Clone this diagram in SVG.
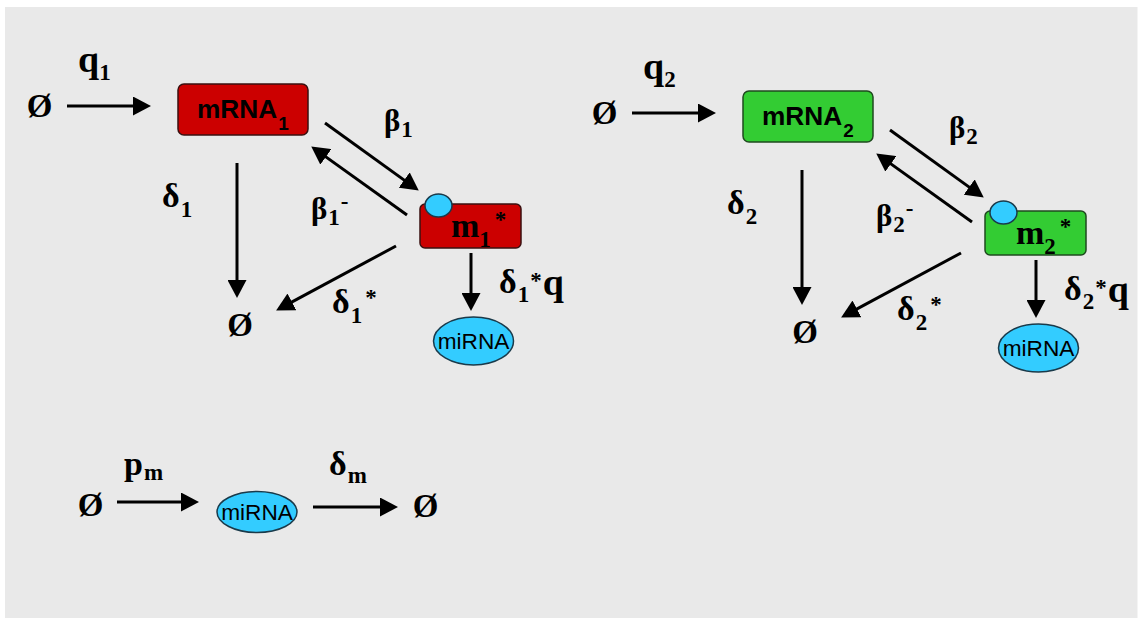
<svg xmlns="http://www.w3.org/2000/svg" width="1138" height="620" viewBox="0 0 1138 620">
  <style>
    .lbl { font-family: "Liberation Serif", "Times New Roman", serif; font-weight: bold; fill: #000; }
    .q { font-size: 38px; }
    .b { font-size: 31px; }
    .d { font-size: 34px; }
    .mm { font-size: 34px; }
    .p { font-size: 34px; }
    .sub { font-size: 23px; }
    .sym { font-family: "Liberation Serif", "Times New Roman", serif; font-weight: bold; font-size: 33px; fill: #000; text-anchor: middle; }
    .box-label { font-family: "Liberation Sans", Arial, sans-serif; font-weight: bold; font-size: 25px; fill: #000; }
    .box-sub { font-size: 18px; }
    .mi { font-family: "Liberation Sans", Arial, sans-serif; font-size: 22px; fill: #000; text-anchor: middle; }
    .red { fill: #cc0000; stroke: #3a1010; stroke-width: 1.5; }
    .green { fill: #33cc33; stroke: #1f4a1f; stroke-width: 1.5; }
    .blue { fill: #33ccff; stroke: #1a3a4a; stroke-width: 1.5; }
    .arrow { stroke: #000; stroke-width: 3; fill: none; marker-end: url(#head); }
  </style>
  <defs>
    <marker id="head" markerUnits="userSpaceOnUse" markerWidth="18" markerHeight="19" viewBox="0 0 18 19" refX="12" refY="9.5" orient="auto">
      <path d="M0,0 L18,9.5 L0,19 z" fill="#000"/>
    </marker>
  </defs>

  <!-- panel background -->
  <rect x="5" y="7" width="1132.5" height="611" fill="#e9e9e9"/>

  <!-- connectors -->
  <g id="connectors">
    <!-- system 1 -->
    <line class="arrow" x1="67" y1="106" x2="145" y2="106"/>
    <line class="arrow" x1="325" y1="123" x2="413.9" y2="187.1"/>
    <line class="arrow" x1="407" y1="215" x2="316.1" y2="149.9"/>
    <line class="arrow" x1="237" y1="163" x2="237" y2="292"/>
    <line class="arrow" x1="396" y1="246" x2="281.4" y2="307.6"/>
    <line class="arrow" x1="471" y1="253" x2="471" y2="305"/>
    <!-- system 2 -->
    <g transform="translate(565,7)">
      <line class="arrow" x1="67" y1="106" x2="145" y2="106"/>
      <line class="arrow" x1="325" y1="123" x2="413.9" y2="187.1"/>
      <line class="arrow" x1="407" y1="215" x2="316.1" y2="149.9"/>
      <line class="arrow" x1="237" y1="163" x2="237" y2="292"/>
      <line class="arrow" x1="396" y1="246" x2="281.4" y2="307.6"/>
      <line class="arrow" x1="471" y1="253" x2="471" y2="305"/>
    </g>
    <!-- miRNA production / decay -->
    <line class="arrow" x1="117" y1="502" x2="193" y2="502"/>
    <line class="arrow" x1="313" y1="507" x2="392" y2="507"/>
  </g>

  <!-- rate labels, system 1 -->
  <g id="labels1">
    <text class="lbl q" x="78" y="72">q<tspan class="sub" dy="8">1</tspan></text>
    <text class="lbl b" x="384" y="131">β<tspan class="sub" dx="1" dy="6">1</tspan></text>
    <text class="lbl b" x="311" y="219">β<tspan class="sub" dx="1" dy="6">1</tspan><tspan class="sub" dx="1" dy="-16">-</tspan></text>
    <text class="lbl d" x="162" y="207">δ<tspan class="sub" dx="1" dy="10">1</tspan></text>
    <text class="lbl d" x="332" y="313">δ<tspan class="sub" dx="1" dy="10">1</tspan><tspan class="sub" dx="3" dy="-18">*</tspan></text>
    <text class="lbl d" x="499" y="293">δ<tspan class="sub" dx="1" dy="9">1</tspan><tspan class="sub" dx="1" dy="-14">*</tspan><tspan class="q" dx="1" dy="7">q</tspan></text>
  </g>

  <!-- rate labels, system 2 -->
  <g id="labels2" transform="translate(565,7)">
    <text class="lbl q" x="78" y="72">q<tspan class="sub" dy="8">2</tspan></text>
    <text class="lbl b" x="384" y="131">β<tspan class="sub" dx="1" dy="6">2</tspan></text>
    <text class="lbl b" x="311" y="219">β<tspan class="sub" dx="1" dy="6">2</tspan><tspan class="sub" dx="1" dy="-16">-</tspan></text>
    <text class="lbl d" x="162" y="207">δ<tspan class="sub" dx="1" dy="10">2</tspan></text>
    <text class="lbl d" x="332" y="313">δ<tspan class="sub" dx="1" dy="10">2</tspan><tspan class="sub" dx="3" dy="-18">*</tspan></text>
    <text class="lbl d" x="499" y="293">δ<tspan class="sub" dx="1" dy="9">2</tspan><tspan class="sub" dx="1" dy="-14">*</tspan><tspan class="q" dx="1" dy="7">q</tspan></text>
  </g>

  <!-- rate labels, miRNA -->
  <g id="labels3">
    <text class="lbl p" x="124" y="475">p<tspan class="sub" dx="1" dy="5">m</tspan></text>
    <text class="lbl d" x="329" y="475">δ<tspan class="sub" dx="1" dy="8">m</tspan></text>
  </g>

  <!-- empty-set sources and sinks -->
  <g id="null1-src"><text class="sym" x="39.5" y="116.5">Ø</text></g>
  <g id="null1-sink"><text class="sym" x="240" y="336">Ø</text></g>
  <g id="null2-src"><text class="sym" x="604.5" y="123.5">Ø</text></g>
  <g id="null2-sink"><text class="sym" x="805" y="343">Ø</text></g>
  <g id="null3-src"><text class="sym" x="90.5" y="515.5">Ø</text></g>
  <g id="null3-sink"><text class="sym" x="425.5" y="516.5">Ø</text></g>

  <!-- mRNA1 -->
  <g id="mrna1">
    <rect class="red" x="178" y="84" width="130" height="51" rx="6"/>
    <text class="box-label" transform="translate(197,118) scale(1.05,1)">mRNA<tspan class="box-sub" dx="1" dy="12">1</tspan></text>
  </g>

  <!-- bound complex m1* -->
  <g id="m1star">
    <rect class="red" x="420" y="204" width="101" height="44" rx="5"/>
    <ellipse class="blue" cx="438.5" cy="205.5" rx="13.5" ry="11.5"/>
    <text class="lbl mm" x="451" y="237">m<tspan class="sub" dy="10">1</tspan><tspan class="sub" dx="4" dy="-20">*</tspan></text>
  </g>

  <!-- miRNA released from m1* -->
  <g id="mirna1">
    <ellipse class="blue" cx="473.5" cy="341" rx="40" ry="24"/>
    <text class="mi" transform="translate(473.5,349) scale(1.03,1)">miRNA</text>
  </g>

  <!-- mRNA2 -->
  <g id="mrna2">
    <rect class="green" x="743" y="91" width="130" height="51" rx="6"/>
    <text class="box-label" transform="translate(762,125) scale(1.05,1)">mRNA<tspan class="box-sub" dx="1" dy="12">2</tspan></text>
  </g>

  <!-- bound complex m2* -->
  <g id="m2star">
    <rect class="green" x="985" y="211" width="101" height="44" rx="5"/>
    <ellipse class="blue" cx="1003.5" cy="212.5" rx="13.5" ry="11.5"/>
    <text class="lbl mm" x="1016" y="244">m<tspan class="sub" dy="10">2</tspan><tspan class="sub" dx="4" dy="-20">*</tspan></text>
  </g>

  <!-- miRNA released from m2* -->
  <g id="mirna2">
    <ellipse class="blue" cx="1038.5" cy="348" rx="40" ry="24"/>
    <text class="mi" transform="translate(1038.5,356) scale(1.03,1)">miRNA</text>
  </g>

  <!-- free miRNA pool -->
  <g id="mirna-free">
    <ellipse class="blue" cx="257" cy="512" rx="40" ry="20.5"/>
    <text class="mi" transform="translate(257,520) scale(1.03,1)">miRNA</text>
  </g>
</svg>
